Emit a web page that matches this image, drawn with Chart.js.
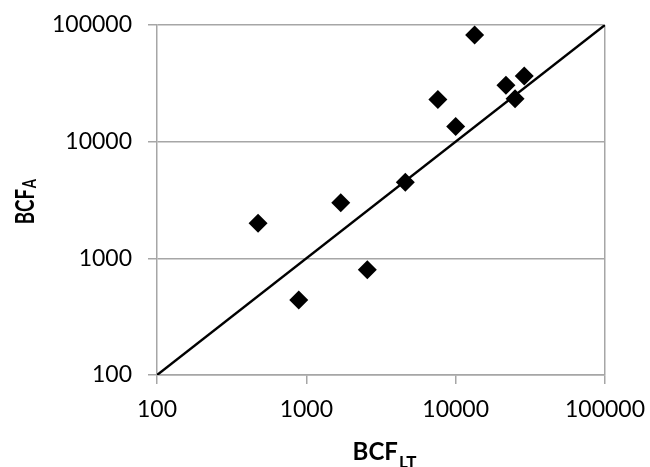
<!DOCTYPE html>
<html>
<head>
<meta charset="utf-8">
<script src="https://cdn.jsdelivr.net/npm/chart.js@4/dist/chart.umd.min.js"></script>
<style>
  html, body { margin: 0; padding: 0; background: #fff; }
  #wrap { width: 650px; height: 467px; }
</style>
</head>
<body>
<div id="wrap"><canvas id="bcf"></canvas></div>
<script>
// BCF_LT (x) vs BCF_A (y)
const bcf_lt = [475, 890, 1700, 2560, 4600, 7600, 10000, 13400, 21700, 25000, 28800]
const bcf_a = [2000, 440, 3000, 800, 4500, 23000, 13500, 82000, 30500, 23300, 36500]
const linea_11 = [100, 100000]
const ticks_log = [100, 1000, 10000, 100000]

const gris = '#a6a6a6'
const fuente = 'Lato, "Open Sans", "Liberation Sans", sans-serif'

const puntos = bcf_lt.map((x, i) => ({ x: x, y: bcf_a[i] }))
const diagonal = linea_11.map(v => ({ x: v, y: v }))

// titles with subscript, drawn on the canvas
const titulos = {
  id: 'titulos',
  afterDraw(c) {
    const ctx = c.ctx
    const area = c.chartArea
    ctx.save()
    ctx.fillStyle = '#000'
    ctx.textBaseline = 'alphabetic'
    ctx.textAlign = 'left'

    // x title
    ctx.font = 'bold 24px ' + fuente
    const w1 = ctx.measureText('BCF').width
    ctx.font = 'bold 17px ' + fuente
    const w2 = ctx.measureText('LT').width
    const x0 = (area.left + area.right) / 2 + 3 - (w1 + w2) / 2
    ctx.font = 'bold 24px ' + fuente
    ctx.fillText('BCF', x0, 460)
    ctx.font = 'bold 17px ' + fuente
    ctx.fillText('LT', x0 + w1 + 1, 468)

    // y title (rotated)
    ctx.translate(34, (area.top + area.bottom) / 2 + 2)
    ctx.rotate(-Math.PI / 2)
    ctx.scale(0.78, 1.1)
    ctx.font = 'bold 24px ' + fuente
    const v1 = ctx.measureText('BCF').width
    ctx.font = 'bold 17px ' + fuente
    const v2 = ctx.measureText('A').width
    const y0 = -(v1 + v2) / 2
    ctx.font = 'bold 24px ' + fuente
    ctx.fillText('BCF', y0, 0)
    ctx.font = 'bold 17px ' + fuente
    ctx.fillText('A', y0 + v1 + 1, 2)
    ctx.restore()
  }
}

window.addEventListener('load', () => {
  new Chart(document.getElementById('bcf'), {
    type: 'scatter',
    data: {
      datasets: [{
        type: 'line',
        label: '1:1',
        data: diagonal,
        borderColor: '#000',
        borderWidth: 2.5,
        pointRadius: 0,
        fill: false
      }, {
        label: 'BCF',
        data: puntos,
        pointStyle: 'rectRot',
        pointRadius: 9.5,
        pointHoverRadius: 9.5,
        backgroundColor: '#000',
        borderColor: '#000',
        borderWidth: 0
      }]
    },
    options: {
      responsive: true,
      maintainAspectRatio: false,
      animation: false,
      layout: { padding: { top: 25, right: 45, left: 0, bottom: 0 } },
      plugins: { legend: { display: false }, tooltip: { enabled: false } },
      scales: {
        x: {
          type: 'logarithmic',
          min: 100,
          max: 100000,
          afterBuildTicks: s => { s.ticks = ticks_log.map(v => ({ value: v })) },
          afterFit: s => { s.height = 92; s.paddingLeft = 0; s.paddingRight = 0 },
          border: { color: gris, width: 1.5 },
          grid: {
            color: ctx => (ctx.tick && ctx.tick.value === 100000) ? gris : 'rgba(0,0,0,0)',
            tickColor: gris,
            tickLength: 9,
            lineWidth: 1.5
          },
          ticks: {
            color: '#000',
            font: { family: fuente, size: 23 },
            padding: 12,
            maxRotation: 0,
            autoSkip: false,
            callback: v => String(v)
          }
        },
        y: {
          type: 'logarithmic',
          min: 100,
          max: 100000,
          afterBuildTicks: s => { s.ticks = ticks_log.map(v => ({ value: v })) },
          afterFit: s => { s.width = 157; s.paddingTop = 0; s.paddingBottom = 0 },
          border: { color: gris, width: 1.5 },
          grid: {
            color: gris,
            tickColor: gris,
            tickLength: 9,
            lineWidth: 1.5
          },
          ticks: {
            color: '#000',
            font: { family: fuente, size: 23 },
            padding: 16,
            autoSkip: false,
            callback: v => String(v)
          }
        }
      }
    },
    plugins: [titulos]
  })
})
</script>
</body>
</html>
